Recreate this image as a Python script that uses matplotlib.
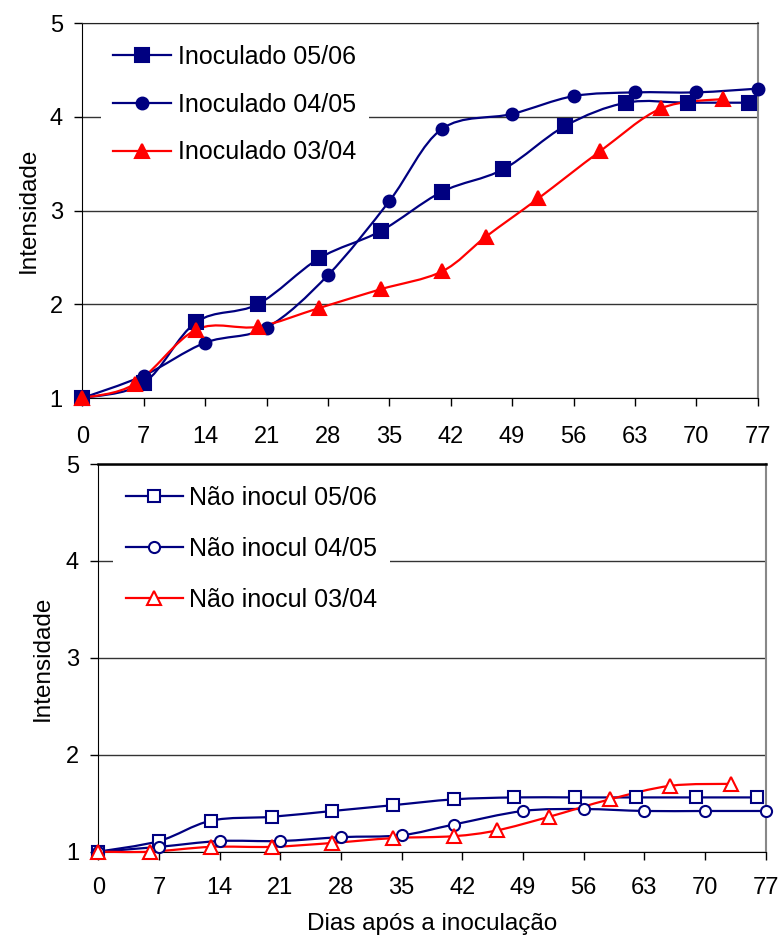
import numpy as np
import matplotlib
matplotlib.use("Agg")
import matplotlib.pyplot as plt
from matplotlib.path import Path
from matplotlib.patches import PathPatch
from matplotlib.lines import Line2D

plt.rcParams["font.family"] = ["Liberation Sans", "DejaVu Sans"]

# Inoculated plots (intensity over days after inoculation)
dias_inoc_0506 = [0, 7, 13, 20, 27, 34, 41, 48, 55, 62, 69, 76]
int_inoc_0506 = [1.0, 1.16, 1.81, 2.0, 2.49, 2.78, 3.2, 3.44, 3.9, 4.15, 4.15, 4.15]
dias_inoc_0405 = [0, 7, 14, 21, 28, 35, 41, 49, 56, 63, 70, 77]
int_inoc_0405 = [1.0, 1.24, 1.59, 1.75, 2.31, 3.1, 3.87, 4.03, 4.22, 4.26, 4.26, 4.3]
dias_inoc_0304 = [0, 6, 13, 20, 27, 34, 41, 46, 52, 59, 66, 73]
int_inoc_0304 = [1.0, 1.15, 1.73, 1.76, 1.96, 2.16, 2.35, 2.72, 3.13, 3.63, 4.09, 4.19]

# Non-inoculated plots
dias_nao_0506 = [0, 7, 13, 20, 27, 34, 41, 48, 55, 62, 69, 76]
int_nao_0506 = [1.0, 1.11, 1.32, 1.36, 1.42, 1.48, 1.54, 1.56, 1.56, 1.56, 1.56, 1.56]
dias_nao_0405 = [0, 7, 14, 21, 28, 35, 41, 49, 56, 63, 70, 77]
int_nao_0405 = [1.0, 1.05, 1.11, 1.11, 1.15, 1.17, 1.28, 1.42, 1.44, 1.42, 1.42, 1.42]
dias_nao_0304 = [0, 6, 13, 20, 27, 34, 41, 46, 52, 59, 66, 73]
int_nao_0304 = [1.0, 1.0, 1.05, 1.05, 1.09, 1.14, 1.16, 1.22, 1.36, 1.54, 1.68, 1.70]

x_ticks = [0, 7, 14, 21, 28, 35, 42, 49, 56, 63, 70, 77]
y_ticks = [1, 2, 3, 4, 5]

NAVY = "#000080"
RED = "#ff0000"


def smooth_path(x, y, t=1 / 6):
    """Bezier path through the points (spreadsheet-style smoothed line)."""
    pts = np.column_stack([x, y]).astype(float)
    n = len(pts)
    verts = [pts[0]]
    codes = [Path.MOVETO]
    for i in range(n - 1):
        p0 = pts[max(i - 1, 0)]
        p1 = pts[i]
        p2 = pts[i + 1]
        p3 = pts[min(i + 2, n - 1)]
        verts += [p1 + (p2 - p0) * t, p2 - (p3 - p1) * t, p2]
        codes += [Path.CURVE4] * 3
    return Path(verts, codes)


def draw_series(ax, x, y, color, marker, ms, filled):
    ax.add_patch(PathPatch(smooth_path(x, y), fill=False, edgecolor=color,
                           lw=1.6, zorder=3, clip_on=False))
    ax.plot(x, y, ls="none", marker=marker, ms=ms, color=color,
            mfc=color if filled else "white", mec=color, mew=1.5,
            zorder=4, clip_on=False)
    return Line2D([], [], color=color, lw=1.6, marker=marker, ms=ms,
                  mfc=color if filled else "white", mec=color, mew=1.5)


def style_axes(ax, xpad, ylabelpad):
    ax.set_xlim(0, 77)
    ax.set_ylim(1, 5)
    ax.set_xticks(x_ticks)
    ax.set_yticks(y_ticks)
    ax.tick_params(axis="x", direction="out", length=6, width=1, pad=xpad,
                   labelsize=17)
    ax.tick_params(axis="y", direction="out", length=6, width=1, pad=8,
                   labelsize=17)
    ax.yaxis.grid(True, color="#333333", lw=1)
    ax.set_axisbelow(True)
    ax.spines["left"].set_color("black")
    ax.spines["bottom"].set_color("black")
    ax.spines["top"].set_color("#222222")
    ax.spines["right"].set_color("#888888")
    ax.spines["right"].set_linewidth(1.5)
    ax.set_ylabel("Intensidade", fontsize=17.5, labelpad=ylabelpad)


fig = plt.figure(figsize=(7.81, 9.35), dpi=100)
ax1 = fig.add_axes([0.1054, 0.5743, 0.8648, 0.4011])
ax2 = fig.add_axes([0.1259, 0.0891, 0.8545, 0.4146])

# Top chart: inoculated
h1 = draw_series(ax1, dias_inoc_0506, int_inoc_0506, NAVY, "s", 9.5, True)
h2 = draw_series(ax1, dias_inoc_0405, int_inoc_0405, NAVY, "o", 8.5, True)
h3 = draw_series(ax1, dias_inoc_0304, int_inoc_0304, RED, "^", 10, True)
style_axes(ax1, xpad=14, ylabelpad=7)
ax1.legend([h1, h2, h3],
           ["Inoculado 05/06", "Inoculado 04/05", "Inoculado 03/04"],
           loc="upper left", bbox_to_anchor=(0.027, 0.975),
           borderaxespad=0, borderpad=0.5, fontsize=18,
           handlelength=2.3, handletextpad=0.3, labelspacing=0.95,
           frameon=True, fancybox=False, framealpha=1,
           edgecolor="none", facecolor="white")

# Bottom chart: non-inoculated
g1 = draw_series(ax2, dias_nao_0506, int_nao_0506, NAVY, "s", 8, False)
g2 = draw_series(ax2, dias_nao_0405, int_nao_0405, NAVY, "o", 8, False)
g3 = draw_series(ax2, dias_nao_0304, int_nao_0304, RED, "^", 9.5, False)
style_axes(ax2, xpad=12, ylabelpad=9)
ax2.spines["top"].set_color("black")
ax2.spines["top"].set_linewidth(1.8)
ax2.set_xlabel("Dias após a inoculação", fontsize=17.5, labelpad=10)
ax2.legend([g1, g2, g3],
           ["Não inocul 05/06", "Não inocul 04/05", "Não inocul 03/04"],
           loc="upper left", bbox_to_anchor=(0.022, 0.975),
           borderaxespad=0, borderpad=0.5, fontsize=18,
           handlelength=2.3, handletextpad=0.25, labelspacing=1.08,
           frameon=True, fancybox=False, framealpha=1,
           edgecolor="none", facecolor="white")

plt.savefig("out.png", dpi=100)
plt.close()
